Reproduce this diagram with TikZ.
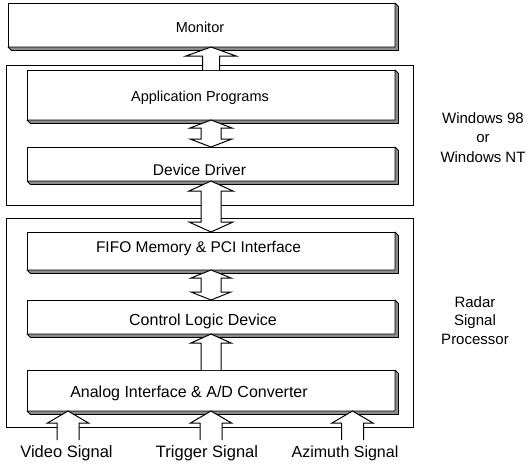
\documentclass[tikz,border=0pt]{standalone}
\usepackage{fontspec}
\setmainfont{Liberation Sans}
\usetikzlibrary{calc}
\newcommand\shadowof[1]{%
  \path[sh] (#1.north east) -- ++(3.5,3.5) -- ($(#1.south east)+(3.5,3.5)$)
    -- ($(#1.south west)+(3.5,3.5)$) -- (#1.south west) -- (#1.south east) -- cycle;}
% up arrow: #1 bottom, #2 tip, #3 shaft half width, #4 head half width, #5 head length
\newcommand\uparr[5]{%
  \draw[blk] let \p1=(#1), \p2=(#2) in
    (\x1-#3pt,\y1) -- (\x1-#3pt,\y2-#5pt) -- (\x1-#4pt,\y2-#5pt) -- (\x1,\y2)
    -- (\x1+#4pt,\y2-#5pt) -- (\x1+#3pt,\y2-#5pt) -- (\x1+#3pt,\y1);}
% double arrow: #1 bottom tip, #2 top tip
\newcommand\dblarr[5]{%
  \draw[blk] let \p1=(#1), \p2=(#2) in
    (\x1,\y2) -- (\x1+#4pt,\y2-#5pt) -- (\x1+#3pt,\y2-#5pt) -- (\x1+#3pt,\y1+#5pt)
    -- (\x1+#4pt,\y1+#5pt) -- (\x1,\y1) -- (\x1-#4pt,\y1+#5pt) -- (\x1-#3pt,\y1+#5pt)
    -- (\x1-#3pt,\y2-#5pt) -- (\x1-#4pt,\y2-#5pt) -- cycle;}
\begin{document}
\begin{tikzpicture}[x=1pt,y=-1pt,
  box/.style={draw, line width=1pt, fill=white, inner sep=0pt, outer sep=0pt},
  frame/.style={draw, line width=0.9pt, inner sep=0pt, outer sep=0pt},
  sh/.style={fill=black!45, draw=black, line width=0.8pt, line join=round},
  blk/.style={draw, line width=1pt, fill=white, line join=miter},
  lbl/.style={anchor=base, inner sep=0pt, font=\fontsize{#1}{#1}\selectfont},
]
\useasboundingbox (0,0) rectangle (527,464);

% outer frames
\node[frame, minimum width=407pt, minimum height=140pt] (win) at (209.5,135) {};
\node[frame, minimum width=407pt, minimum height=209pt] (rsp) at (209.5,322.5) {};

% boxes
\node[box, minimum width=387pt, minimum height=44pt] (mon)  at (201.5,25) {};
\node[box, minimum width=368pt, minimum height=50pt] (app)  at (211,95) {};
\node[box, minimum width=368pt, minimum height=34pt] (dd)   at (211,164) {};
\node[box, minimum width=368pt, minimum height=38pt] (fifo) at (211,251) {};
\node[box, minimum width=368pt, minimum height=34pt] (cld)  at (211,317) {};
\node[box, minimum width=368pt, minimum height=41pt] (ai)   at (211,390.5) {};
\foreach \n in {mon,app,dd,fifo,cld,ai} {\shadowof{\n}}

% box texts
\node[lbl=14.5] (tmon)  at (200,32.5)  {Monitor};
\node[lbl=14.5] (tapp)  at (200,101)   {Application Programs};
\node[lbl=15.5] (tdd)   at (199.5,175) {Device Driver};
\node[lbl=15.5] (tfifo) at (198.5,252) {FIFO Memory \& PCI Interface};
\node[lbl=16]   (tcld)  at (203,325)   {Control Logic Device};
\node[lbl=16]   (tai)   at (189,397)   {Analog Interface \& A/D Converter};

% block arrows between boxes
\uparr{app.north}{mon.south}{8.5}{25}{9}
\dblarr{dd.north}{app.south}{10}{21}{8}
\dblarr{fifo.north}{dd.south}{10}{22}{10}
\dblarr{cld.north}{fifo.south}{10}{20}{8}
\uparr{ai.north}{cld.south}{10}{20}{9}

% input signals
\coordinate (vsb) at (68,440);
\coordinate (tsb) at (211,440);
\coordinate (asb) at (352.5,440);
\uparr{vsb}{vsb |- ai.south}{11}{20.5}{12}
\uparr{tsb}{tsb |- ai.south}{11}{20.5}{12}
\uparr{asb}{asb |- ai.south}{11}{20.5}{12}
\node[lbl=16.5] (vs) at (66.5,457) {Video Signal};
\node[lbl=16.5] (ts) at (207,457)  {Trigger Signal};
\node[lbl=16]   (as) at (345,457)  {Azimuth Signal};

% side labels
\node[lbl=15] (w1) at (483,123) {Windows 98};
\node[lbl=15] (w2) at (483,142) {or};
\node[lbl=15] (w3) at (483,162) {Windows NT};
\node[lbl=15] (r1) at (475,307) {Radar};
\node[lbl=15] (r2) at (475,325) {Signal};
\node[lbl=15] (r3) at (475,344) {Processor};
\end{tikzpicture}
\end{document}
